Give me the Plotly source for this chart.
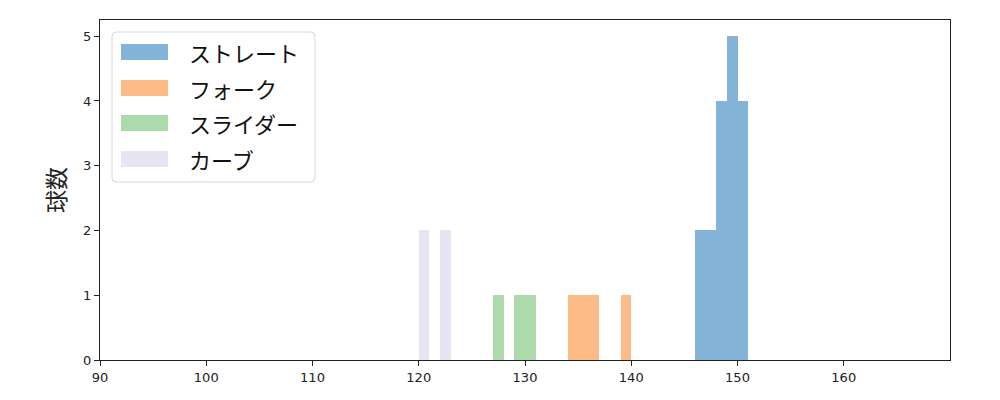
import plotly.graph_objects as go

# pitch speed histograms (bin start in km/h, bin width 1)
pitch_names = ["ストレート", "フォーク", "スライダー", "カーブ"]
pitch_colors = ["#84b3d8", "#fdbb88", "#acdaab", "#e6e6f2"]

straight_bins = [146, 147, 148, 149, 150]
straight_counts = [2, 2, 4, 5, 4]

fork_bins = [134, 135, 136, 139]
fork_counts = [1, 1, 1, 1]

slider_bins = [127, 129, 130]
slider_counts = [1, 1, 1]

curve_bins = [120, 122]
curve_counts = [2, 2]

x_ticks = [90, 100, 110, 120, 130, 140, 150, 160]
y_ticks = [0, 1, 2, 3, 4, 5]

series = [
    (straight_bins, straight_counts),
    (fork_bins, fork_counts),
    (slider_bins, slider_counts),
    (curve_bins, curve_counts),
]

FONT = "Noto Sans CJK JP, DejaVu Sans, sans-serif"
TICK_FONT = "DejaVu Sans, sans-serif"

fig = go.Figure()
for name, color, (bins, counts) in zip(pitch_names, pitch_colors, series):
    fig.add_trace(go.Bar(
        x=[b + 0.5 for b in bins],
        y=counts,
        width=1,
        name=name,
        marker=dict(color=color, line=dict(width=0)),
        showlegend=False,
    ))

# plot area in pixels (page body adds an 8px offset)
OFF = 8
L, T, W, H = 100, 20, 850, 340


def px(x):
    return (x - L) / W


def py(y):
    return (T + H - y) / H


# hand-drawn legend, matplotlib style
shapes = []
annotations = []
x0, x1, y0, y1, r = 112, 315, 32, 182, 4
path = (
    f"M {px(x0 + r)},{py(y0)} L {px(x1 - r)},{py(y0)} "
    f"Q {px(x1)},{py(y0)} {px(x1)},{py(y0 + r)} "
    f"L {px(x1)},{py(y1 - r)} Q {px(x1)},{py(y1)} {px(x1 - r)},{py(y1)} "
    f"L {px(x0 + r)},{py(y1)} Q {px(x0)},{py(y1)} {px(x0)},{py(y1 - r)} "
    f"L {px(x0)},{py(y0 + r)} Q {px(x0)},{py(y0)} {px(x0 + r)},{py(y0)} Z"
)
shapes.append(dict(type="path", xref="paper", yref="paper", path=path,
                   fillcolor="rgba(255,255,255,0.8)", line=dict(color="#d6d6d6", width=1)))
row_top = [44, 80, 115, 151]
for name, color, top in zip(pitch_names, pitch_colors, row_top):
    shapes.append(dict(type="rect", xref="paper", yref="paper",
                       x0=px(121), x1=px(168), y0=py(top), y1=py(top + 16),
                       fillcolor=color, line=dict(width=0)))
    annotations.append(dict(xref="paper", yref="paper", x=px(187), y=py(top + 8),
                            text=name, showarrow=False, xanchor="left", yanchor="middle",
                            font=dict(family=FONT, size=22, color="#111")))

fig.update_layout(
    width=1000, height=400,
    margin=dict(l=L - OFF, r=1000 - (L - OFF) - W, t=T - OFF, b=400 - (T - OFF) - H),
    paper_bgcolor="white", plot_bgcolor="white",
    barmode="overlay", bargap=0,
    font=dict(family=FONT, size=13, color="#222"),
    shapes=shapes, annotations=annotations,
    xaxis=dict(range=[90, 170], tickvals=x_ticks, ticks="outside", ticklen=5,
               tickwidth=1.2, tickcolor="#222", showline=True, linecolor="#222",
               linewidth=1.2, mirror=True, showgrid=False, zeroline=False,
               automargin=False, tickfont=dict(family=TICK_FONT, size=13)),
    yaxis=dict(range=[0, 5.25], tickvals=y_ticks, ticks="outside", ticklen=5,
               tickwidth=1.2, tickcolor="#222", showline=True, linecolor="#222",
               linewidth=1.2, mirror=True, showgrid=False, zeroline=False,
               automargin=False, tickfont=dict(family=TICK_FONT, size=13),
               title=dict(text="球数", font=dict(size=23, family=FONT), standoff=10)),
)

fig.write_html("out.html")
